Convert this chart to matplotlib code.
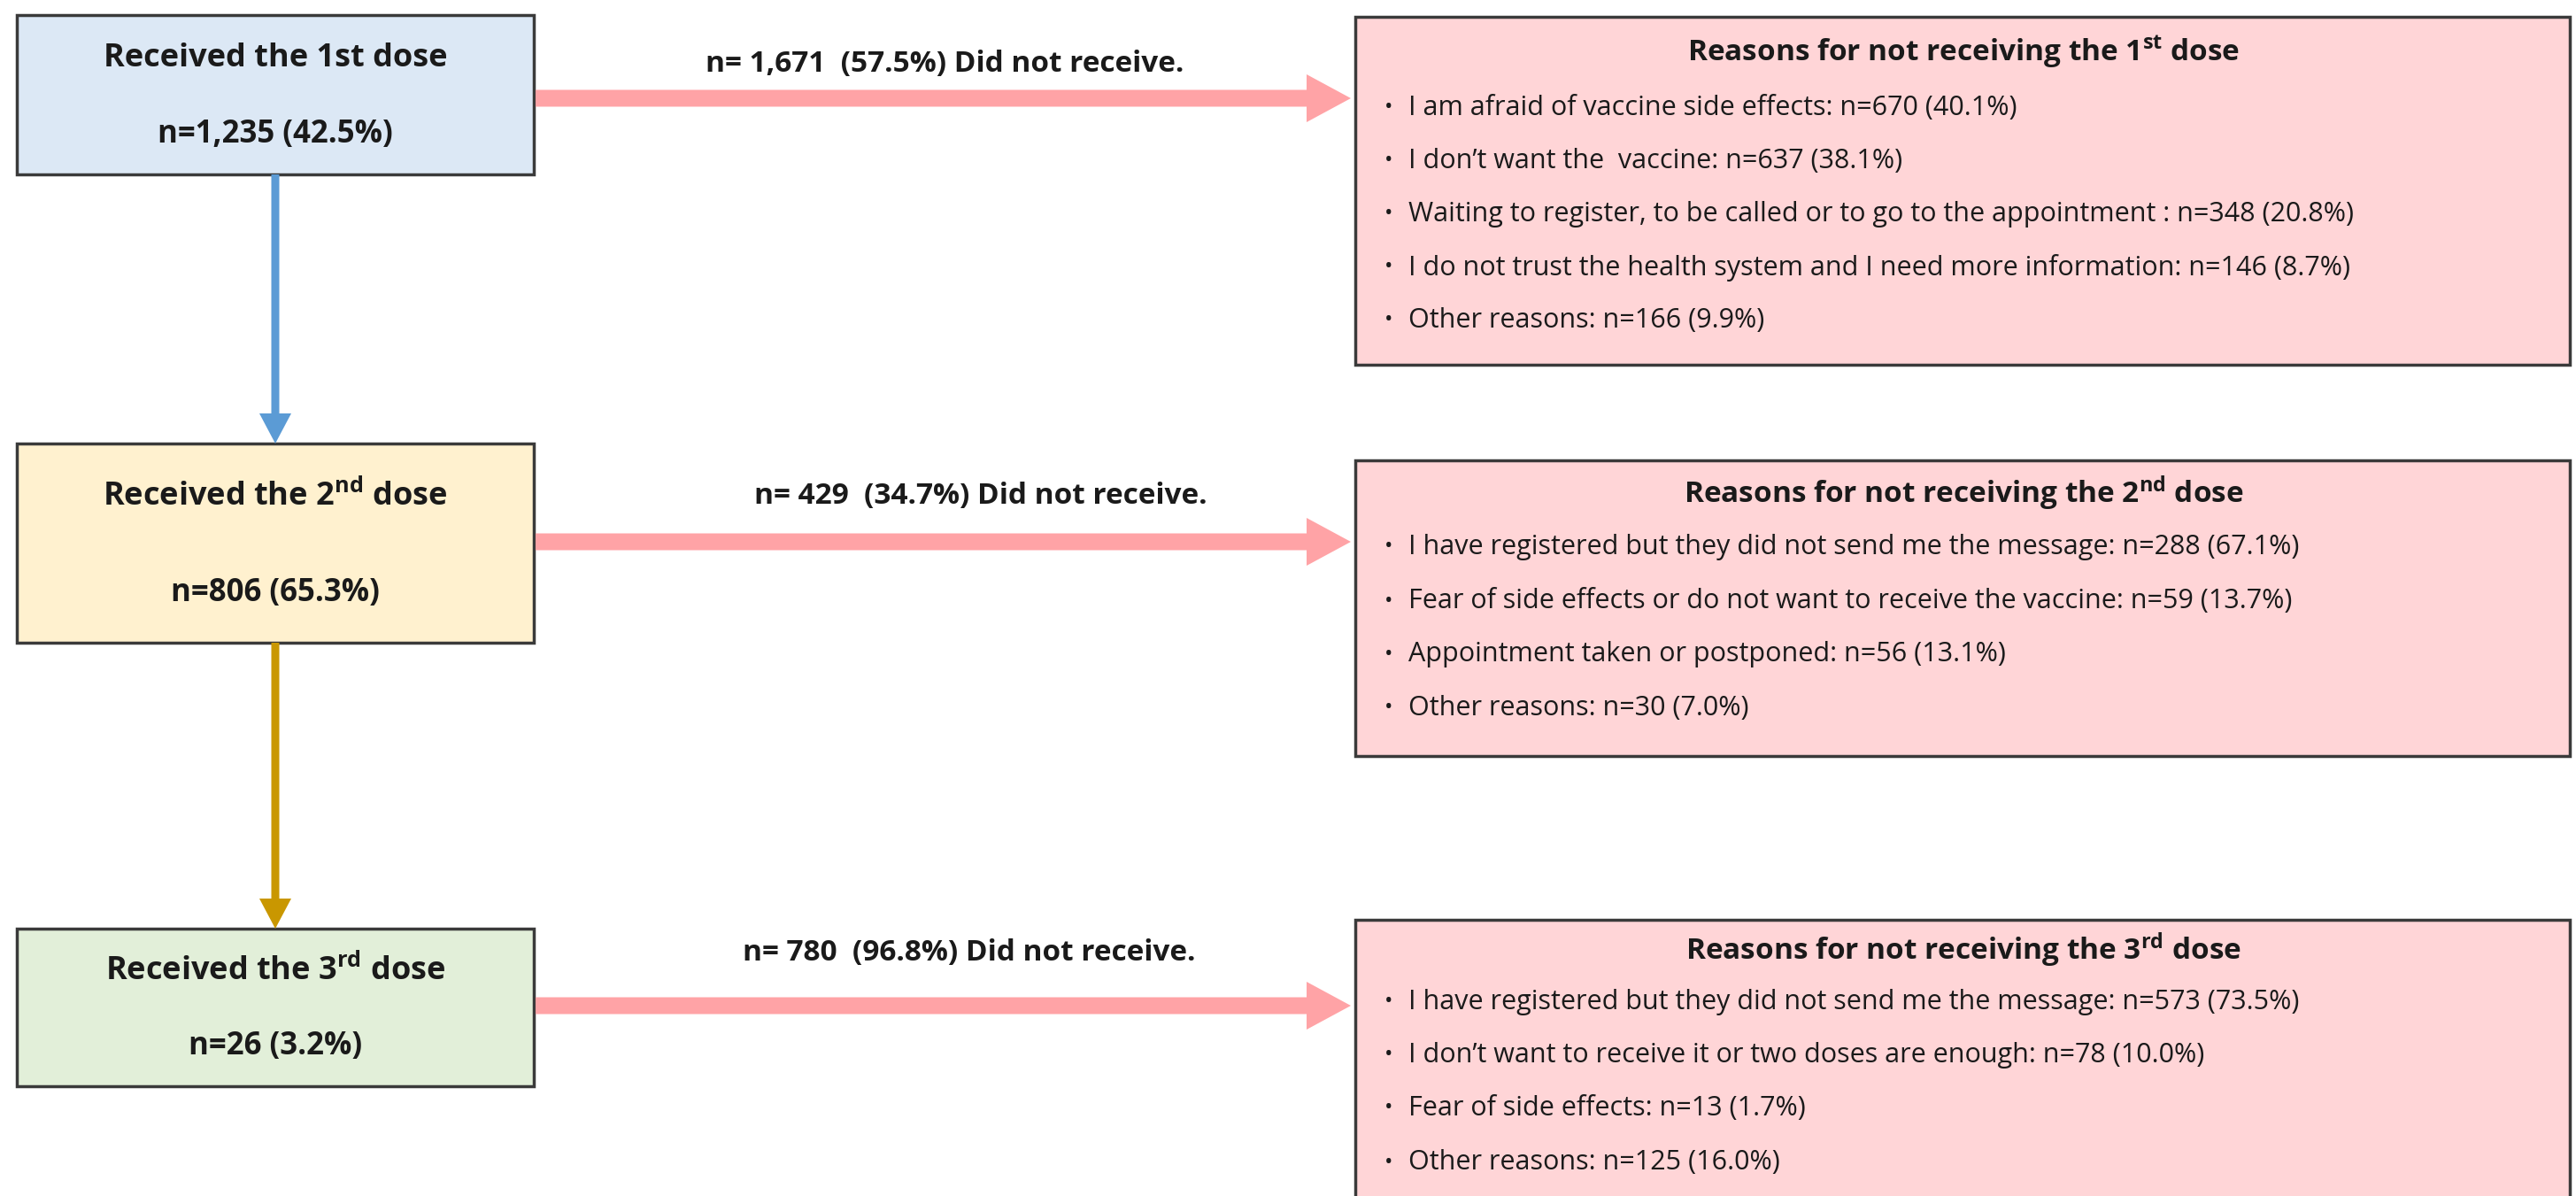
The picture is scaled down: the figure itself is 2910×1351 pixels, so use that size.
import matplotlib
matplotlib.use("Agg")
from matplotlib import pyplot as plt
from matplotlib.patches import Rectangle, FancyArrow

plt.rcParams['font.family'] = ['Open Sans', 'DejaVu Sans']

# dose flow data
dose_labels = ["Received the 1st dose",
               "Received the 2$\\mathregular{^{nd}}$ dose",
               "Received the 3$\\mathregular{^{rd}}$ dose"]
received_n = [1235, 806, 26]
received_pct = [42.5, 65.3, 3.2]
missed_n = [1671, 429, 780]
missed_pct = [57.5, 34.7, 96.8]

reason_titles = ["Reasons for not receiving the 1$\\mathregular{^{st}}$ dose",
                 "Reasons for not receiving the 2$\\mathregular{^{nd}}$ dose",
                 "Reasons for not receiving the 3$\\mathregular{^{rd}}$ dose"]

reasons1 = ["I am afraid of vaccine side effects:",
            "I don\u2019t want the  vaccine:",
            "Waiting to register, to be called or to go to the appointment :",
            "I do not trust the health system and I need more information:",
            "Other reasons:"]
reasons1_n = [670, 637, 348, 146, 166]
reasons1_pct = [40.1, 38.1, 20.8, 8.7, 9.9]

reasons2 = ["I have registered but they did not send me the message:",
            "Fear of side effects or do not want to receive the vaccine:",
            "Appointment taken or postponed:",
            "Other reasons:"]
reasons2_n = [288, 59, 56, 30]
reasons2_pct = [67.1, 13.7, 13.1, 7.0]

reasons3 = ["I have registered but they did not send me the message:",
            "I don\u2019t want to receive it or two doses are enough:",
            "Fear of side effects:",
            "Other reasons:"]
reasons3_n = [573, 78, 13, 125]
reasons3_pct = [73.5, 10.0, 1.7, 16.0]

box_colors = ["#dce8f5", "#fff1cf", "#e2efd9"]
down_colors = ["#5b9bd5", "#c99700"]

fig = plt.figure(figsize=(29.1, 13.51), dpi=100)
ax = fig.add_axes([0, 0, 1, 1])
ax.set_xlim(0, 2910)
ax.set_ylim(1351, 0)
ax.axis('off')

edge = "#3a3a3a"

# left boxes
box_tops = [17, 501, 1049]
box_h = [180, 225, 178]
for i in range(3):
    top = box_tops[i]
    h = box_h[i]
    ax.add_patch(Rectangle((19, top), 584, h, facecolor=box_colors[i],
                           edgecolor=edge, linewidth=2.5))
    ax.text(311, top + h * 0.27, dose_labels[i], ha='center', va='center',
            fontsize=26, fontweight='bold', color='#1a1a1a')
    ax.text(311, top + h * 0.75, f"n={received_n[i]:,} ({received_pct[i]}%)",
            ha='center', va='center', fontsize=25, fontweight='bold', color='#1a1a1a')

# vertical arrows
for i in range(2):
    y0 = box_tops[i] + box_h[i]
    y1 = box_tops[i + 1]
    ax.add_patch(FancyArrow(311, y0, 0, y1 - y0, width=9, head_width=36,
                            head_length=34, length_includes_head=True,
                            color=down_colors[i], linewidth=0))

# pink arrows and labels
arrow_y = [111, 612, 1136]
label_y = [72, 560, 1076]
label_x = [1067, 1108, 1095]
for i in range(3):
    ax.add_patch(FancyArrow(605, arrow_y[i], 1526 - 605, 0, width=19,
                            head_width=54, head_length=50,
                            length_includes_head=True, color="#ffa3a6",
                            linewidth=0))
    ax.text(label_x[i], label_y[i],
            f"n= {missed_n[i]:,}  ({missed_pct[i]}%) Did not receive.",
            ha='center', va='center', fontsize=24, fontweight='bold',
            color='#1a1a1a')

# reason boxes
rbox_tops = [19, 520, 1039]
rbox_h = [393, 334, 400]
title_y = [59, 557, 1073]
bullet_y = [[122, 182, 242, 302, 362],
            [618, 679, 739, 800],
            [1132, 1192, 1252, 1313]]
all_reasons = [(reasons1, reasons1_n, reasons1_pct),
               (reasons2, reasons2_n, reasons2_pct),
               (reasons3, reasons3_n, reasons3_pct)]
for i in range(3):
    ax.add_patch(Rectangle((1531, rbox_tops[i]), 1372, rbox_h[i],
                           facecolor="#ffd5d7", edgecolor=edge, linewidth=2.5))
    ax.text(2218, title_y[i], reason_titles[i], ha='center', va='center',
            fontsize=24, fontweight='bold', color='#1a1a1a')
    labels, ns, pcts = all_reasons[i]
    for j in range(len(labels)):
        ax.text(1569, bullet_y[i][j], "\u2022", ha='center', va='center',
                fontsize=18, color='#1a1a1a')
        ax.text(1591, bullet_y[i][j], f"{labels[j]} n={ns[j]} ({pcts[j]:.1f}%)",
                ha='left', va='center', fontsize=22, color='#1a1a1a')

fig.savefig("out.png", dpi=100)
